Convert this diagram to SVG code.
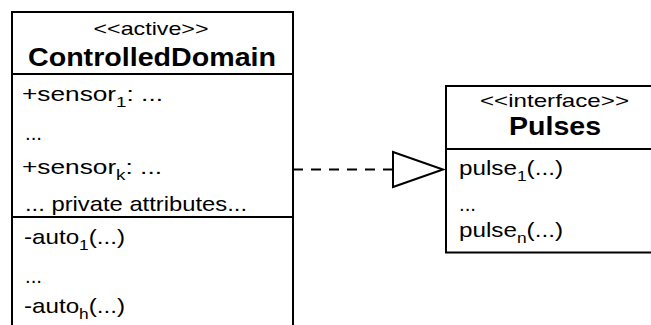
<svg xmlns="http://www.w3.org/2000/svg" width="651" height="325" viewBox="0 0 651 325">
<style>
.box{fill:#fff;stroke:#000;stroke-width:2}
.sep{stroke:#000;stroke-width:2}
text{font-family:"Liberation Sans",Arial,Helvetica,sans-serif;fill:#000}
.st{font-size:19px;text-anchor:middle}
.ti{font-size:26px;font-weight:bold;text-anchor:middle}
.bd{font-size:21px}
.sub{font-size:15px}
.dash{stroke:#000;stroke-width:2;fill:none;stroke-dasharray:10 8}
.tri{fill:#fff;stroke:#000;stroke-width:2}
</style>
<rect width="651" height="325" fill="#fff"/>
<g id="connectors">
<line class="dash" x1="293" y1="169.5" x2="393" y2="169.5"/>
<polygon class="tri" points="393,152 443,169.5 393,187"/>
</g>
<g id="ControlledDomain">
<rect class="box" x="12" y="12" width="281" height="330"/>
<line class="sep" x1="12" y1="74" x2="293" y2="74"/>
<line class="sep" x1="12" y1="217" x2="293" y2="217"/>
<text class="st" x="151" y="35" textLength="115" lengthAdjust="spacingAndGlyphs">&lt;&lt;active&gt;&gt;</text>
<text class="ti" x="152" y="66" textLength="248" lengthAdjust="spacingAndGlyphs">ControlledDomain</text>
<text class="bd" x="22" y="101" textLength="141" lengthAdjust="spacingAndGlyphs">+sensor<tspan class="sub" dy="6">1</tspan><tspan dy="-6">: ...</tspan></text>
<text class="bd" x="25" y="140" textLength="17" lengthAdjust="spacingAndGlyphs">...</text>
<text class="bd" x="22" y="174" textLength="140" lengthAdjust="spacingAndGlyphs">+sensor<tspan class="sub" dy="6">k</tspan><tspan dy="-6">: ...</tspan></text>
<text class="bd" x="25" y="211" textLength="222" lengthAdjust="spacingAndGlyphs">... private attributes...</text>
<text class="bd" x="24" y="244" textLength="101" lengthAdjust="spacingAndGlyphs">-auto<tspan class="sub" dy="6">1</tspan><tspan dy="-6">(...)</tspan></text>
<text class="bd" x="25" y="283" textLength="17" lengthAdjust="spacingAndGlyphs">...</text>
<text class="bd" x="24" y="313" textLength="101" lengthAdjust="spacingAndGlyphs">-auto<tspan class="sub" dy="6">h</tspan><tspan dy="-6">(...)</tspan></text>
</g>
<g id="Pulses">
<rect class="box" x="446" y="86" width="220" height="166.5"/>
<line class="sep" x1="446" y1="149" x2="666" y2="149"/>
<text class="st" x="554.5" y="107" textLength="149" lengthAdjust="spacingAndGlyphs">&lt;&lt;interface&gt;&gt;</text>
<text class="ti" x="555" y="135" textLength="92" lengthAdjust="spacingAndGlyphs">Pulses</text>
<text class="bd" x="459" y="175" textLength="104" lengthAdjust="spacingAndGlyphs">pulse<tspan class="sub" dy="6">1</tspan><tspan dy="-6">(...)</tspan></text>
<text class="bd" x="459" y="211" textLength="17" lengthAdjust="spacingAndGlyphs">...</text>
<text class="bd" x="459" y="237" textLength="104" lengthAdjust="spacingAndGlyphs">pulse<tspan class="sub" dy="6">n</tspan><tspan dy="-6">(...)</tspan></text>
</g>
</svg>
